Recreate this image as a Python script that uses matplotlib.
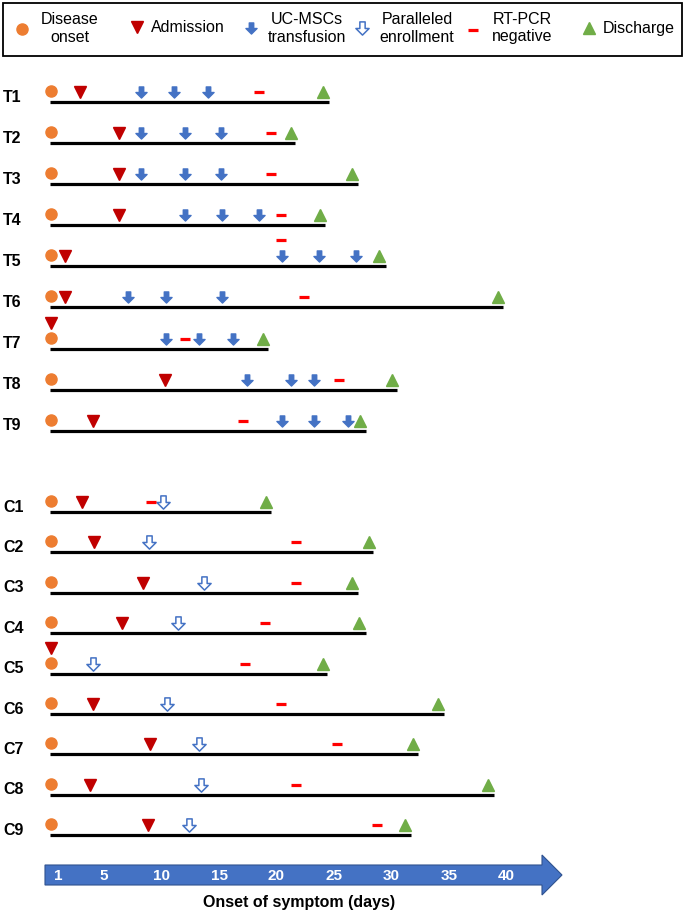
import matplotlib.pyplot as plt
from matplotlib.path import Path
from matplotlib.patches import Rectangle, FancyArrow

plt.rcParams['font.family'] = ['Liberation Sans', 'DejaVu Sans']

# --- Data: days from symptom onset ---
onset_day = 0.4

t_names = ['T1', 'T2', 'T3', 'T4', 'T5', 'T6', 'T7', 'T8', 'T9']
t_admission = [2.9, 6.3, 6.3, 6.3, 1.6, 1.6, 0.4, 10.3, 4.0]
t_transfusion = [[8.2, 11.1, 14.0], [8.2, 12.0, 15.2], [8.2, 12.0, 15.2],
                 [12.0, 15.3, 18.5], [20.5, 23.7, 26.9], [7.1, 10.4, 15.3],
                 [10.4, 13.3, 16.2], [17.4, 21.3, 23.3], [20.5, 23.3, 26.2]]
t_negative = [18.5, 19.5, 19.5, 20.4, 20.4, 22.4, 12.0, 25.4, 17.1]
t_discharge = [24.0, 21.3, 26.6, 23.8, 28.9, 39.3, 18.8, 30.0, 27.3]
t_end = [24.6, 21.6, 27.1, 24.2, 29.5, 39.7, 19.3, 30.5, 27.8]

c_names = ['C1', 'C2', 'C3', 'C4', 'C5', 'C6', 'C7', 'C8', 'C9']
c_admission = [3.1, 4.1, 8.4, 6.6, 0.4, 4.0, 9.0, 3.8, 8.8]
c_enrollment = [10.1, 8.9, 13.7, 11.4, 4.0, 10.5, 13.3, 13.4, 12.4]
c_negative = [9.1, 21.7, 21.7, 19.0, 17.3, 20.4, 25.3, 21.7, 28.7]
c_discharge = [19.1, 28.0, 26.6, 27.2, 24.0, 34.0, 31.9, 38.4, 31.2]
c_end = [19.5, 28.4, 27.1, 27.8, 24.4, 34.6, 32.3, 38.9, 31.7]

# markers that sit above another one on the same day
raised = {'T5': 'negative', 'T7': 'admission', 'C5': 'admission'}

day_ticks = [1, 5, 10, 15, 20, 25, 30, 35, 40]

# --- Styles ---
orange = '#ED7D31'
darkred = '#C00000'
blue = '#4472C4'
green = '#70AD47'
red = '#FF0000'

arrow_path = Path([(-0.2, 0.5), (0.2, 0.5), (0.2, 0.0), (0.5, 0.0), (0.0, -0.5),
                   (-0.5, 0.0), (-0.2, 0.0), (-0.2, 0.5)],
                  [Path.MOVETO] + [Path.LINETO] * 6 + [Path.CLOSEPOLY])

W, H = 685, 913
fig = plt.figure(figsize=(W / 100, H / 100), dpi=100)

# day axis (x in days, y in pixels from top)
ax = fig.add_axes([0, 0, 1, 1])
ax.set_xlim(1 - 58 / 11.5, 1 + (W - 58) / 11.5)
ax.set_ylim(H, 0)
ax.axis('off')

# pixel overlay for legend and labels
px = fig.add_axes([0, 0, 1, 1])
px.set_xlim(0, W)
px.set_ylim(H, 0)
px.axis('off')

mk = dict(linestyle='none', zorder=3)


def draw_row(name, y, adm, neg, dis, end, arrows, hollow):
    ax.plot([onset_day - 0.1, end], [y, y], color='black', lw=2.3,
            solid_capstyle='butt', zorder=1)
    my = y - 10
    up = y - 26
    ax.plot(onset_day, my - 1, 'o', color=orange, ms=8, **mk)
    ax.plot(adm, up if raised.get(name) == 'admission' else my, 'v',
            color=darkred, ms=8.5, **mk)
    for a in arrows:
        if hollow:
            ax.plot(a, my, marker=arrow_path, color='white', mec=blue,
                    mew=1.1, ms=9.5, **mk)
        else:
            ax.plot(a, my, marker=arrow_path, color=blue, ms=8, **mk)
    ax.plot(neg, up if raised.get(name) == 'negative' else my, '_',
            color=red, ms=6.5, mew=2.3, **mk)
    ax.plot(dis, my, '^', color=green, ms=8.5, **mk)
    px.text(3, y - 5, name, fontsize=11.5, fontweight='bold', va='center', ha='left')


for i, name in enumerate(t_names):
    y = 102 + 41.1 * i
    draw_row(name, y, t_admission[i], t_negative[i], t_discharge[i], t_end[i],
             t_transfusion[i], False)

for i, name in enumerate(c_names):
    y = 512 + 40.4 * i
    draw_row(name, y, c_admission[i], c_negative[i], c_discharge[i], c_end[i],
             [c_enrollment[i]], True)

# --- Bottom time arrow ---
x0 = 1 - 13 / 11.5
tip = 1 + 504 / 11.5
ax.add_patch(FancyArrow(x0, 875, tip - x0, 0, width=20, head_width=40,
                        head_length=20 / 11.5, length_includes_head=True,
                        facecolor=blue, edgecolor='#2F528F', lw=0.8, zorder=2))
for d in day_ticks:
    ax.text(d, 876, str(d), color='white', fontsize=11, fontweight='bold',
            ha='center', va='center', zorder=3)
ax.text(22.0, 903, 'Onset of symptom (days)', fontsize=11.5, fontweight='bold',
        ha='center', va='center')

# --- Legend ---
px.add_patch(Rectangle((3, 3), 679, 53, fill=False, edgecolor='black', lw=1.3))
px.plot(22, 29, 'o', color=orange, ms=8, **mk)
px.text(70, 28, 'Disease\nonset', fontsize=11.5, ha='center', va='center', linespacing=1.25)
px.plot(137, 27, 'v', color=darkred, ms=8.5, **mk)
px.text(151, 27, 'Admission', fontsize=11.5, ha='left', va='center')
px.plot(251, 28, marker=arrow_path, color=blue, ms=8, **mk)
px.text(307, 28, 'UC-MSCs\ntransfusion', fontsize=11.5, ha='center', va='center', linespacing=1.25)
px.plot(362, 28, marker=arrow_path, color='white', mec=blue, mew=1.1, ms=9.5, **mk)
px.text(417, 28, 'Paralleled\nenrollment', fontsize=11.5, ha='center', va='center', linespacing=1.25)
px.plot(473, 30, '_', color=red, ms=6.5, mew=2.3, **mk)
px.text(522, 28, 'RT-PCR\nnegative', fontsize=11.5, ha='center', va='center', linespacing=1.25)
px.plot(589, 28, '^', color=green, ms=8.5, **mk)
px.text(603, 28, 'Discharge', fontsize=11.5, ha='left', va='center')

fig.savefig('out.png', dpi=100)
